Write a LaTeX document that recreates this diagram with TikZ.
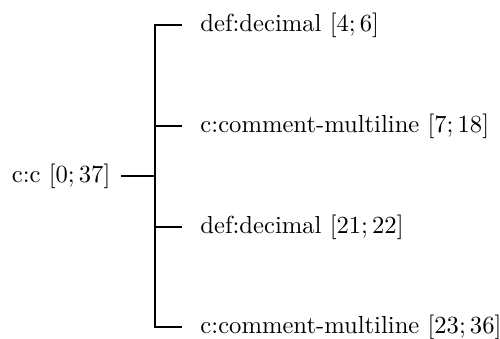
\documentclass[tikz,border=0pt]{standalone}
\begin{document}
\begin{tikzpicture}[x=0.406pt,y=-0.406pt,
  link/.style={line width=0.9pt},
  rootnode/.style={anchor=east,inner xsep=4.1pt,inner ysep=0pt},
  leafnode/.style={anchor=west,inner xsep=7.3pt,inner ysep=0pt}]
\useasboundingbox (0,0) rectangle (500,338);
\node[rootnode] (root) at (121,176) {c:c $[0; 37]$};
\coordinate (j) at (155,176);
\coordinate (t1) at (155,25);
\coordinate (t2) at (155,126);
\coordinate (t3) at (155,227);
\coordinate (t4) at (155,327);
\node[leafnode] (c1) at (182,25) {def:decimal $[4; 6]$};
\node[leafnode] (c2) at (182,126) {c:comment-multiline $[7; 18]$};
\node[leafnode] (c3) at (182,227) {def:decimal $[21; 22]$};
\node[leafnode] (c4) at (182,327) {c:comment-multiline $[23; 36]$};
\draw[link] (root.east) -- (j);
\draw[link] (c1.west) -- (t1) -- (t4) -- (c4.west);
\draw[link] (t2) -- (c2.west);
\draw[link] (t3) -- (c3.west);
\end{tikzpicture}
\end{document}
